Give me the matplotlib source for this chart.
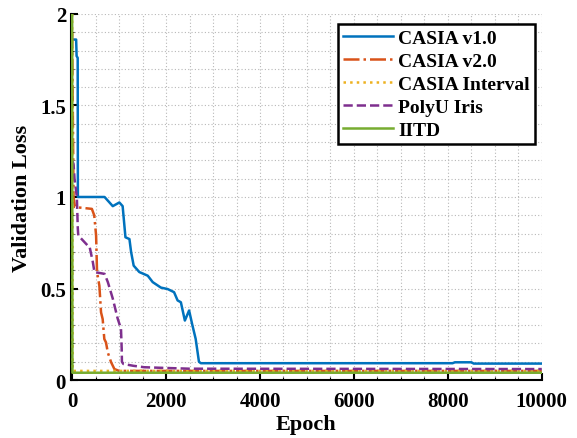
import matplotlib
matplotlib.use("Agg")
import matplotlib.pyplot as plt
from matplotlib.ticker import MultipleLocator, FixedLocator

plt.rcParams['font.family'] = ['Liberation Serif', 'DejaVu Serif']
plt.rcParams['font.weight'] = 'bold'

# ---- data ----
v1_epoch = [0, 85, 95, 118, 122, 690, 865, 1005, 1075, 1135, 1220, 1255, 1310, 1430,
            1610, 1715, 1890, 2035, 2170, 2245, 2315, 2400, 2490, 2560, 2630, 2700,
            2740, 8100, 8150, 8500, 8550, 10000]
v1_loss = [1.86, 1.86, 1.77, 1.76, 1.0, 1.0, 0.95, 0.97, 0.95, 0.78, 0.77, 0.70, 0.625, 0.59,
           0.57, 0.535, 0.505, 0.497, 0.48, 0.435, 0.425, 0.325, 0.38, 0.30, 0.225, 0.10,
           0.092, 0.092, 0.097, 0.097, 0.09, 0.09]

v2_epoch = [0, 30, 60, 420, 470, 510, 530, 580, 615, 650, 685, 720, 760, 830, 900, 1000, 10000]
v2_loss = [1.9, 1.0, 0.945, 0.935, 0.90, 0.79, 0.59, 0.515, 0.37, 0.333, 0.224, 0.206,
           0.15, 0.097, 0.06, 0.05, 0.05]

int_epoch = [0, 12, 10000]
int_loss = [2.0, 0.05, 0.05]

polyu_epoch = [0, 30, 50, 100, 120, 130, 330, 370, 440, 475, 690, 760, 865, 970, 1040,
               1055, 1060, 1090, 1300, 1535, 2000, 2500, 10000]
polyu_loss = [1.2, 1.18, 1.1, 1.0, 0.83, 0.79, 0.735, 0.73, 0.645, 0.59, 0.58, 0.535,
              0.445, 0.335, 0.28, 0.17, 0.10, 0.088, 0.078, 0.07, 0.066, 0.062, 0.06]

iitd_epoch = [0, 6, 10000]
iitd_loss = [2.05, 0.04, 0.04]

labels = ['CASIA v1.0', 'CASIA v2.0', 'CASIA Interval', 'PolyU Iris', 'IITD']
x_ticks = [0, 2000, 4000, 6000, 8000, 10000]
y_ticks = [0, 0.5, 1, 1.5, 2]
y_ticklabels = ['0', '0.5', '1', '1.5', '2']

fig = plt.figure(figsize=(5.77, 4.39), dpi=100)
ax = fig.add_axes([0.123, 0.132, 0.816, 0.834])

lw = 1.8
ax.plot(v1_epoch, v1_loss, color='#0072BD', ls='-', lw=lw, label=labels[0], zorder=3)
ax.plot(v2_epoch, v2_loss, color='#D95319', ls='-.', lw=lw, label=labels[1], zorder=3)
ax.plot(int_epoch, int_loss, color='#EDB120', ls=':', lw=lw, label=labels[2], zorder=3)
ax.plot(polyu_epoch, polyu_loss, color='#7E2F8E', ls='--', lw=lw, label=labels[3], zorder=3)
ax.plot(iitd_epoch, iitd_loss, color='#77AC30', ls='-', lw=lw, label=labels[4], zorder=3)

ax.set_xlim(-25, 10000)
ax.set_ylim(0, 2)
ax.xaxis.set_major_locator(FixedLocator(x_ticks))
ax.yaxis.set_major_locator(FixedLocator(y_ticks))
ax.set_yticklabels(y_ticklabels)
ax.xaxis.set_minor_locator(MultipleLocator(500))
ax.yaxis.set_minor_locator(MultipleLocator(0.1))

ax.grid(True, which='both', ls=(0, (1, 2)), color='#b8b8b8', lw=0.8)
ax.set_axisbelow(True)

for s in ['top', 'right']:
    ax.spines[s].set_visible(False)
for s in ['left', 'bottom']:
    ax.spines[s].set_linewidth(1.5)

ax.tick_params(which='major', direction='in', length=5, width=1.5, labelsize=15)
ax.tick_params(which='minor', direction='in', length=2.5, width=0.8)
for t in ax.get_xticklabels() + ax.get_yticklabels():
    t.set_fontweight('bold')
ax.tick_params(axis='x', pad=8)

ax.set_xlabel('Epoch', fontsize=16, fontweight='bold', labelpad=2)
ax.set_ylabel('Validation Loss', fontsize=16, fontweight='bold', labelpad=6)

leg = ax.legend(loc='upper right', bbox_to_anchor=(0.985, 0.972),
                prop={'weight': 'bold', 'size': 14}, frameon=True, fancybox=False,
                edgecolor='black', framealpha=1, handlelength=2.6, handletextpad=0.25,
                borderpad=0.25, labelspacing=0.28, borderaxespad=0)
leg.get_frame().set_linewidth(1.8)

fig.savefig('out.png', dpi=100)
